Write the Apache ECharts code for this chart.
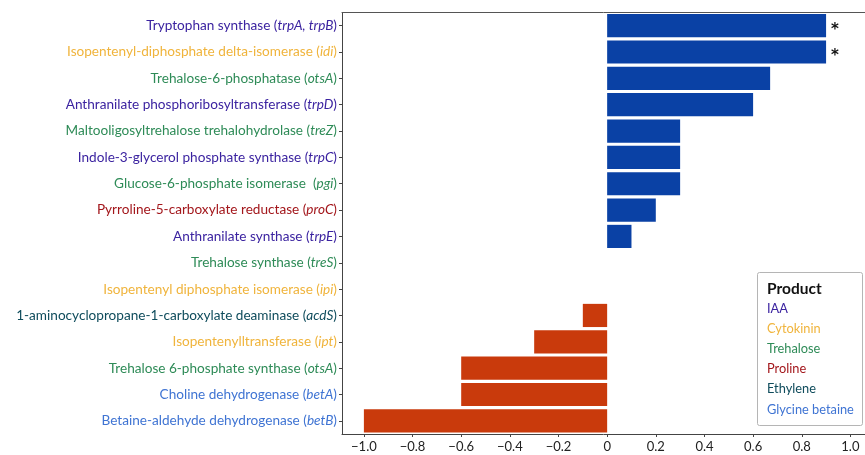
<!DOCTYPE html>
<html>
<head>
<meta charset="utf-8">
<script src="https://cdn.jsdelivr.net/npm/echarts@6/dist/echarts.min.js"></script>
<style>
  html, body { margin: 0; padding: 0; background: #fff; }
  #chart { width: 865px; height: 455px; }
</style>
</head>
<body>
<div id="chart"></div>
<script>
// Enzyme names (top to bottom), gene symbols shown in italics, product group index
const enzymes = [
  'Tryptophan synthase ',
  'Isopentenyl-diphosphate delta-isomerase ',
  'Trehalose-6-phosphatase ',
  'Anthranilate phosphoribosyltransferase ',
  'Maltooligosyltrehalose trehalohydrolase ',
  'Indole-3-glycerol phosphate synthase ',
  'Glucose-6-phosphate isomerase  ',
  'Pyrroline-5-carboxylate reductase ',
  'Anthranilate synthase ',
  'Trehalose synthase ',
  'Isopentenyl diphosphate isomerase ',
  '1-aminocyclopropane-1-carboxylate deaminase ',
  'Isopentenylltransferase ',
  'Trehalose 6-phosphate synthase ',
  'Choline dehydrogenase ',
  'Betaine-aldehyde dehydrogenase '
];
const genes = [
  'trpA, trpB', 'idi', 'otsA', 'trpD', 'treZ', 'trpC', 'pgi', 'proC',
  'trpE', 'treS', 'ipi', 'acdS', 'ipt', 'otsA', 'betA', 'betB'
];
const productIndex = [0, 1, 2, 0, 2, 0, 2, 3, 0, 2, 1, 4, 1, 2, 5, 5];
const values = [0.9, 0.9, 0.67, 0.6, 0.3, 0.3, 0.3, 0.2, 0.1, 0, 0, -0.1, -0.3, -0.6, -0.6, -1.0];
const marks = ['*', '*', '', '', '', '', '', '', '', '', '', '', '', '', '', ''];

// Product groups and their label colours
const products = ['IAA', 'Cytokinin', 'Trehalose', 'Proline', 'Ethylene', 'Glycine betaine'];
const productColors = ['#3b23a0', '#f0b43c', '#2e8b57', '#a3171c', '#0f4c5c', '#3f74d3'];

const tickValues = [-1.0, -0.8, -0.6, -0.4, -0.2, 0, 0.2, 0.4, 0.6, 0.8, 1.0];

const POS = '#0a41a5';
const NEG = '#c93a0c';
const FONT = 'Lato';
const LABEL_SIZE = 13.6;

const categories = enzymes.map((e, i) => e + '(' + genes[i] + ')');

const rich = {};
products.forEach((p, k) => {
  rich['n' + k] = { color: productColors[k], fontSize: LABEL_SIZE, fontFamily: FONT };
  rich['g' + k] = { color: productColors[k], fontSize: LABEL_SIZE, fontFamily: FONT, fontStyle: 'italic' };
});

const chart = echarts.init(document.getElementById('chart'), null, { renderer: 'canvas' });

const legendX = 757, legendY = 272;
const legendTexts = products.map((p, k) => ({
  type: 'text',
  left: legendX + 10,
  top: legendY + 30 + k * 20.2,
  style: { text: p, fill: productColors[k], fontSize: 12.8, fontFamily: FONT }
}));

chart.setOption({
  animation: false,
  backgroundColor: '#fff',
  grid: { left: 342, right: 0, top: 12.5, bottom: 21, containLabel: false },
  xAxis: [{
    type: 'value',
    min: -1.09,
    max: 1.06,
    position: 'bottom',
    axisLine: { show: true, lineStyle: { color: '#444', width: 1 } },
    axisTick: { show: true, length: 3, customValues: tickValues, lineStyle: { color: '#444' } },
    axisLabel: {
      customValues: tickValues,
      margin: 6,
      fontSize: 13,
      fontFamily: FONT,
      color: '#222',
      formatter: v => v === 0 ? '0' : (v < 0 ? '\u2212' : '') + Math.abs(v).toFixed(1)
    },
    splitLine: { show: false }
  }, {
    type: 'value',
    min: -1.09,
    max: 1.06,
    position: 'top',
    axisLine: { show: true, lineStyle: { color: '#555', width: 1 } },
    axisTick: { show: false },
    axisLabel: { show: false },
    splitLine: { show: false }
  }],
  yAxis: {
    type: 'category',
    inverse: true,
    data: categories,
    axisLine: { show: true, onZero: false, lineStyle: { color: '#444', width: 1 } },
    axisTick: { show: true, length: 3, alignWithLabel: true, lineStyle: { color: '#444' } },
    axisLabel: {
      margin: 5,
      interval: 0,
      rich: rich,
      formatter: (value, idx) => {
        const k = productIndex[idx];
        return '{n' + k + '|' + enzymes[idx] + '(}{g' + k + '|' + genes[idx] + '}{n' + k + '|)}';
      }
    }
  },
  series: [{
    type: 'bar',
    xAxisIndex: 0,
    barCategoryGap: '12%',
    data: values.map((v, i) => ({
      value: v,
      itemStyle: { color: v >= 0 ? POS : NEG },
      label: {
        show: marks[i] !== '',
        position: 'right',
        distance: 5,
        formatter: marks[i],
        color: '#111',
        fontSize: 15,
        fontWeight: 'bold',
        fontFamily: 'DejaVu Sans',
        offset: [0, 4]
      }
    }))
  }],
  graphic: [{
    type: 'rect',
    left: legendX,
    top: legendY,
    shape: { width: 105, height: 153, r: 2 },
    style: { fill: '#fff', stroke: '#b5b5b5', lineWidth: 1 }
  }, {
    type: 'text',
    left: legendX + 10,
    top: legendY + 9,
    style: { text: 'Product', fill: '#111', fontSize: 15.5, fontWeight: 'bold', fontFamily: FONT }
  }].concat(legendTexts)
});
</script>
</body>
</html>
